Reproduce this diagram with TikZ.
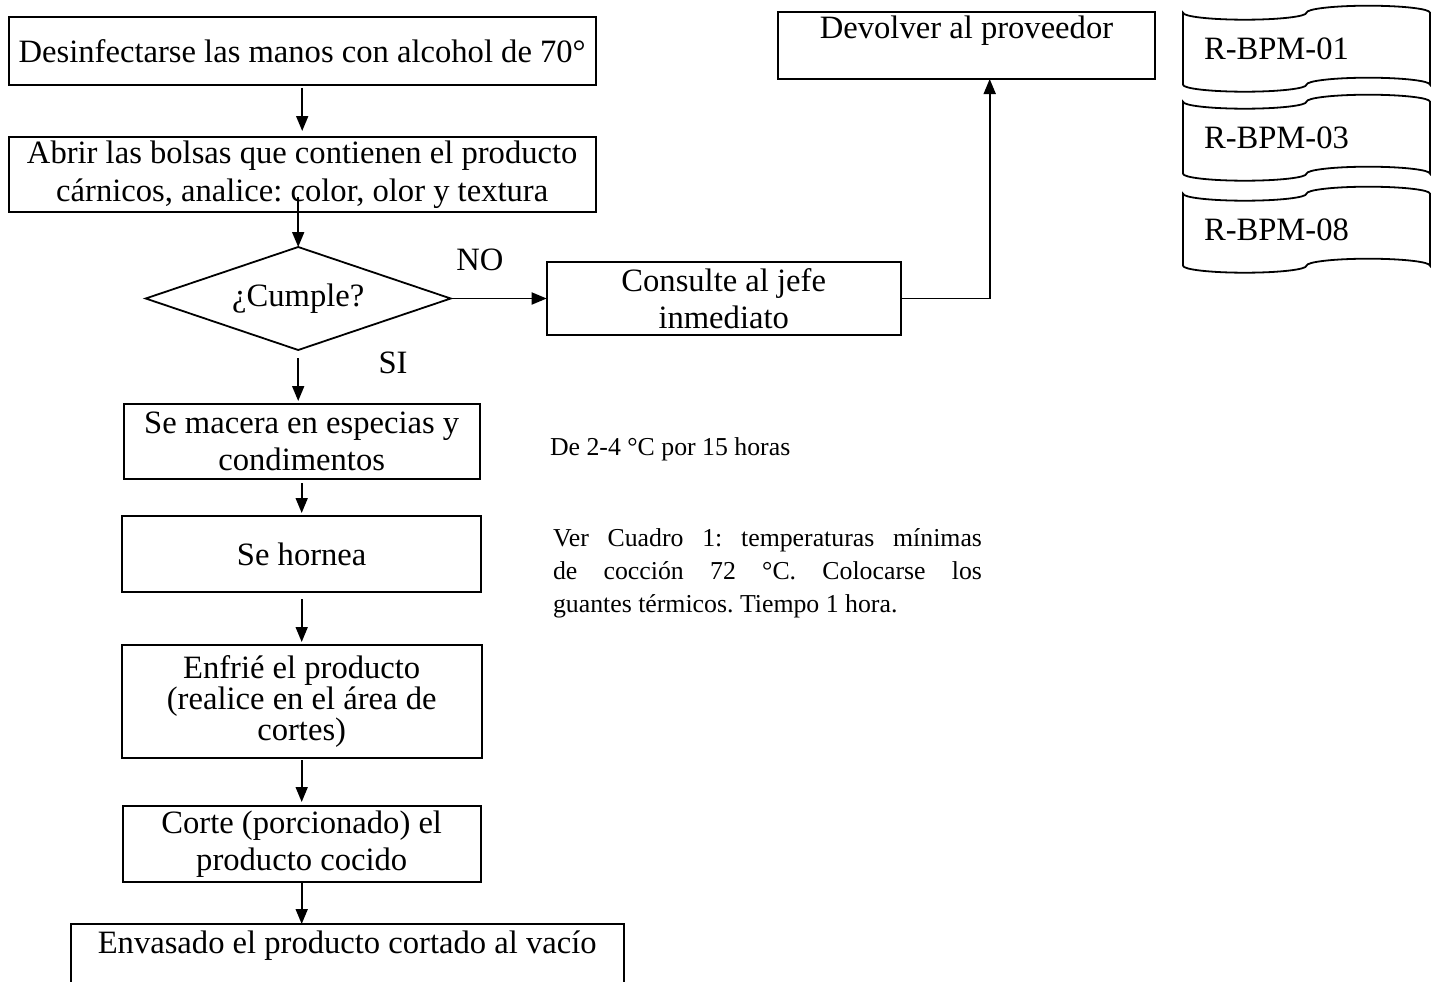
\documentclass[tikz,border=0pt]{standalone}
\usepackage{fontspec}
\setmainfont{Liberation Serif}
\usetikzlibrary{calc,shapes.geometric,arrows.meta}
\frenchspacing

\begin{document}
\begin{tikzpicture}[inner sep=0pt, outer sep=0pt,
    every node/.style={font=\fontsize{32.6}{37.5}\selectfont},
    procbox/.style={draw, line width=1.8pt, align=center},
    decision/.style={draw, line width=1.8pt, shape=diamond, aspect=2.96,
      minimum width=305pt, minimum height=103pt},
    regdoc/.style={minimum height=72pt, text width=205pt, inner xsep=21pt, align=left},
    notetext/.style={font=\fontsize{25.8}{33}\selectfont},
    flowarrow/.style={line width=1.8pt, -{Triangle[length=15pt,width=12pt]}}]
    \useasboundingbox (0,0) rectangle (1438pt,-982pt);
    \clip (0,0) rectangle (1438pt,-982pt);

    % main column
    \node[procbox, anchor=north west, minimum width=587pt, minimum height=68pt] (desinf)
    at (8.7pt,-17pt) {Desinfectarse las manos con alcohol de 70°};

    \node[procbox, anchor=north, minimum width=587pt, minimum height=75pt] (abrir)
    at ($(desinf.south) + (0pt,-52pt)$)
    {Abrir las bolsas que contienen el producto\\ cárnicos, analice: color, olor y textura};

    \node[decision, anchor=north] (cumple) at ($(abrir.south) + (-4pt,-35pt)$) {¿Cumple?};

    \node (lbl_no) at (480pt,-260pt) {NO};
    \node (lbl_si) at (393pt,-363pt) {SI};

    \node[procbox, anchor=north, minimum width=356pt, minimum height=75pt] (macera)
    at ($(cumple.south) + (3.5pt,-54pt)$) {Se macera en especias y\\ condimentos};

    \node[procbox, anchor=north, minimum width=359pt, minimum height=76pt] (hornea)
    at ($(macera.south) + (0pt,-37pt)$) {Se hornea};

    \node[procbox, anchor=north, minimum width=360pt, minimum height=113pt,
    font=\fontsize{32.6}{31}\selectfont] (enfrie)
    at ($(hornea.south) + (0pt,-53pt)$) {Enfrié el producto\\ (realice en el área de\\ cortes)};

    \node[procbox, anchor=north, minimum width=358pt, minimum height=76pt] (corte)
    at ($(enfrie.south) + (0pt,-48pt)$) {Corte (porcionado) el\\ producto cocido};

    \node[procbox, anchor=north, minimum width=553pt, text height=23pt, text depth=60pt,
    inner ysep=6pt] (envasado)
    at ($(corte.south) + (45.5pt,-42pt)$) {Envasado el producto cortado al vacío};

    % branch NO
    \node[procbox, anchor=west, minimum width=354pt, minimum height=73pt] (consulte)
    at ($(cumple.east) + (96pt,0pt)$) {Consulte al jefe\\ inmediato};

    \node[procbox, anchor=north west, minimum width=377pt, text height=22pt, text depth=35pt,
    inner ysep=5pt] (devolver)
    at (778pt,-12pt) {Devolver al proveedor};

    \coordinate (turn) at ($(consulte.east) + (89pt,0pt)$);

    % notes
    \node[notetext, anchor=base west] (note_temp) at (550pt,-455pt) {De 2-4 °C por 15 horas};

    \node[notetext, anchor=north west, text width=429pt, align=justify] (note_coc)
    at (553pt,-529pt)
    {Ver Cuadro 1: temperaturas mínimas\linebreak de cocción 72 °C. Colocarse los\linebreak
    guantes térmicos. Tiempo 1 hora.};

    % records
    \node[regdoc, anchor=north west] (reg_01) at (1183pt,-12.7pt) {R-BPM-01};
    \node[regdoc, anchor=north west] (reg_03) at ($(reg_01.south west) + (0pt,-17pt)$) {R-BPM-03};
    \node[regdoc, anchor=north west] (reg_08) at ($(reg_03.south west) + (0pt,-20pt)$) {R-BPM-08};

    \draw[line width=1.8pt] (reg_01.north west)
    arc[start angle=180, end angle=360, x radius=61.75pt, y radius=7pt]
    arc[start angle=180, end angle=0, x radius=61.75pt, y radius=7pt] -- (reg_01.south east)
    arc[start angle=0, end angle=180, x radius=61.75pt, y radius=7pt]
    arc[start angle=0, end angle=-180, x radius=61.75pt, y radius=7pt] -- cycle;
    \draw[line width=1.8pt] (reg_03.north west)
    arc[start angle=180, end angle=360, x radius=61.75pt, y radius=7pt]
    arc[start angle=180, end angle=0, x radius=61.75pt, y radius=7pt] -- (reg_03.south east)
    arc[start angle=0, end angle=180, x radius=61.75pt, y radius=7pt]
    arc[start angle=0, end angle=-180, x radius=61.75pt, y radius=7pt] -- cycle;
    \draw[line width=1.8pt] (reg_08.north west)
    arc[start angle=180, end angle=360, x radius=61.75pt, y radius=7pt]
    arc[start angle=180, end angle=0, x radius=61.75pt, y radius=7pt] -- (reg_08.south east)
    arc[start angle=0, end angle=180, x radius=61.75pt, y radius=7pt]
    arc[start angle=0, end angle=-180, x radius=61.75pt, y radius=7pt] -- cycle;

    % connectors
    \draw[flowarrow, shorten <=3pt, shorten >=6pt] (desinf.south) -- (abrir.north);
    \draw[flowarrow] ($(cumple.north) + (0pt,50pt)$) -- (cumple.north);
    \draw[flowarrow] (cumple.east) -- (consulte.west);
    \draw[flowarrow] (consulte.east) -- (turn) -- (turn |- devolver.south);
    \draw[flowarrow, shorten <=8pt, shorten >=3pt] (cumple.south) -- (cumple.south |- macera.north);
    \draw[flowarrow, shorten <=4pt, shorten >=3pt] (macera.south) -- (hornea.north);
    \draw[flowarrow, shorten <=7pt, shorten >=3pt] (hornea.south) -- (enfrie.north);
    \draw[flowarrow, shorten <=2pt, shorten >=4pt] (enfrie.south) -- (corte.north);
    \draw[flowarrow] (corte.south) -- (corte.south |- envasado.north);

\end{tikzpicture}
\end{document}
